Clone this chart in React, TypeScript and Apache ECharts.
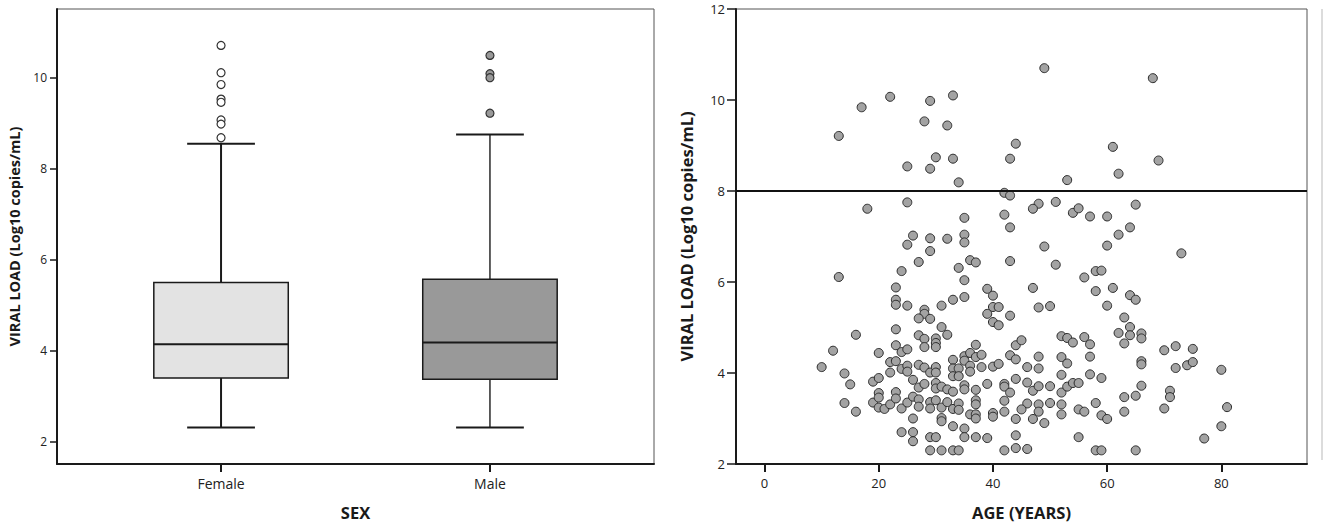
import { useEffect, useRef } from "react";
import * as echarts from "echarts";

// ---- Left panel: boxplot by sex ----
const sexCategories = ["Female", "Male"];
const boxLow = [2.3, 2.3];
const boxQ1 = [3.39, 3.36];
const boxMedian = [4.13, 4.17];
const boxQ3 = [5.49, 5.56];
const boxHigh = [8.54, 8.74];
const femaleOutliers = [10.7, 10.1, 9.84, 9.52, 9.45, 9.06, 8.97, 8.67];
const maleOutliers = [10.48, 10.08, 9.99, 9.21];
const loadTicksLeft = [2, 4, 6, 8, 10];

// ---- Right panel: viral load vs age ----
const ageTicks = [0, 20, 40, 60, 80];
const threshold = 8;
const ages = [
  13, 17, 22, 29, 33, 28, 32, 30, 33, 25, 29, 34, 18, 25, 35, 26, 25, 29, 29, 32,
  35, 35, 27, 36, 37, 34, 24, 13, 35, 23, 35, 33, 23, 23, 25, 31, 28, 28, 27, 29,
  23, 31, 32, 27, 28, 30, 30, 30, 28, 16, 12, 20, 23, 24, 25, 10, 14, 15, 14, 16,
  19, 20, 19, 20, 20, 20, 21, 22, 22, 22, 23, 23, 23, 24, 25, 25, 24, 25, 26, 26,
  27, 27, 27, 27, 28, 28, 29, 29, 29, 30, 30, 30, 30, 30, 31, 31, 31, 31, 32, 32,
  33, 33, 33, 33, 33, 33, 34, 34, 34, 34, 35, 35, 35, 35, 35, 35, 36, 36, 36, 36,
  37, 37, 37, 37, 37, 37, 37, 37, 38, 38, 24, 26, 26, 26, 29, 30, 29, 31, 33, 34,
  39, 40, 40, 41, 39, 40, 41, 40, 41, 39, 40, 40, 39,
  49, 68, 44, 43, 61, 69, 62, 53, 42, 43, 48, 47, 51, 54, 55, 57, 60, 65, 42, 43,
  64, 62, 49, 60, 73, 43, 51, 56, 58, 59, 47, 58, 61, 64, 65, 48, 50, 43, 60, 63,
  62, 64, 64, 63, 66, 66, 52, 53, 54, 56, 57, 44, 45, 43, 44, 48, 48, 46, 52, 53,
  57, 66, 66, 70, 72, 75, 74, 75, 72, 80, 42, 42, 43, 44, 46, 47, 48, 50, 52, 52,
  53, 54, 55, 57, 59, 66, 65, 63, 71, 71, 42, 46, 48, 50, 52, 58, 45, 48, 42, 52,
  55, 56, 59, 60, 63, 70, 81, 44, 47, 49, 80, 77, 44, 55, 42, 44, 46, 58, 59, 65,
];
const viralLoads = [
  9.21, 9.84, 10.07, 9.98, 10.1, 9.53, 9.44, 8.74, 8.71, 8.54, 8.49, 8.19, 7.61, 7.75, 7.41, 7.02, 6.82, 6.96, 6.68, 6.95,
  7.04, 6.87, 6.44, 6.48, 6.43, 6.31, 6.24, 6.11, 6.04, 5.88, 5.67, 5.61, 5.61, 5.5, 5.48, 5.48, 5.39, 5.3, 5.2, 5.19,
  4.96, 5.01, 4.84, 4.83, 4.75, 4.76, 4.66, 4.57, 4.57, 4.84, 4.49, 4.44, 4.61, 4.46, 4.52, 4.13, 3.99, 3.75, 3.34, 3.15,
  3.81, 3.89, 3.35, 3.56, 3.46, 3.24, 3.21, 3.31, 4.01, 4.24, 4.26, 3.58, 3.44, 4.09, 4.16, 4.03, 3.22, 3.35, 3.85, 3.48,
  4.18, 3.68, 3.42, 3.26, 4.12, 3.76, 4.01, 3.36, 3.22, 4.13, 4.01, 3.78, 3.66, 3.4, 3.7, 3.24, 3.01, 2.94, 3.64, 3.36,
  4.29, 4.1, 3.93, 3.59, 3.21, 2.83, 4.1, 3.93, 3.33, 3.19, 4.37, 4.27, 3.73, 3.64, 2.78, 2.59, 4.44, 4.16, 4.03, 3.09,
  4.62, 4.35, 3.63, 3.4, 3.31, 3.09, 3.0, 2.59, 4.4, 4.13, 2.7, 2.7, 2.5, 3.0, 2.59, 2.59, 2.3, 2.3, 2.3, 2.3,
  5.85, 5.7, 5.45, 5.45, 5.3, 5.12, 5.05, 4.14, 4.2, 3.76, 3.12, 3.04, 2.57,
  10.7, 10.48, 9.04, 8.71, 8.97, 8.67, 8.38, 8.24, 7.96, 7.9, 7.72, 7.61, 7.76, 7.52, 7.62, 7.44, 7.44, 7.7, 7.48, 7.2,
  7.2, 7.04, 6.78, 6.8, 6.63, 6.46, 6.38, 6.1, 6.24, 6.25, 5.87, 5.8, 5.87, 5.71, 5.61, 5.44, 5.47, 5.26, 5.48, 5.22,
  4.88, 5.01, 4.83, 4.65, 4.87, 4.76, 4.81, 4.77, 4.67, 4.79, 4.63, 4.61, 4.72, 4.39, 4.3, 4.36, 4.1, 4.13, 4.35, 4.21,
  4.36, 4.26, 4.19, 4.5, 4.59, 4.53, 4.17, 4.24, 4.11, 4.07, 3.76, 3.7, 3.57, 3.87, 3.79, 3.61, 3.71, 3.71, 3.96, 3.57,
  3.7, 3.78, 3.78, 3.97, 3.89, 3.72, 3.5, 3.47, 3.61, 3.47, 3.39, 3.33, 3.31, 3.34, 3.31, 3.34, 3.2, 3.15, 3.15, 3.09,
  3.2, 3.15, 3.07, 2.99, 3.15, 3.22, 3.25, 2.99, 2.99, 2.9, 2.83, 2.56, 2.63, 2.59, 2.3, 2.35, 2.33, 2.3, 2.3, 2.3,
];

const FONT = "'Open Sans', 'DejaVu Sans', sans-serif";
const DARK = "#1a1a1a";

export default function App() {
  const ref = useRef<HTMLDivElement>(null);

  useEffect(() => {
    if (!ref.current) return;
    const chart = echarts.init(ref.current, undefined, { renderer: "svg" });
    const boxFills = ["#e3e3e3", "#999999"];

    const axisNameStyle = (size: number) => ({
      fontFamily: FONT,
      fontWeight: "bold" as const,
      fontSize: size,
      color: DARK,
    });
    const tickLabel = (size: number) => ({
      fontFamily: FONT,
      fontSize: size,
      color: "#222",
    });
    const axisLine = { show: true, onZero: false, lineStyle: { color: DARK, width: 2 } };

    const option: any = {
      animation: false,
      backgroundColor: "#ffffff",
      grid: [
        { left: 57, top: 9, width: 597, height: 455, show: true, borderColor: "#555", borderWidth: 1, backgroundColor: "transparent" },
        { left: 736, top: 9, width: 571, height: 455, show: true, borderColor: "#555", borderWidth: 1, backgroundColor: "transparent" },
      ],
      xAxis: [
        {
          type: "value",
          gridIndex: 0,
          min: 0.39,
          max: 2.61,
          splitLine: { show: false },
          axisLine,
          axisTick: { show: true, length: 8, customValues: [1, 2], lineStyle: { color: DARK, width: 2 } },
          axisLabel: {
            show: true,
            customValues: [1, 2],
            margin: 12,
            formatter: (v: number) => sexCategories[Math.round(v) - 1] ?? "",
            ...tickLabel(14),
          },
          name: "SEX",
          nameLocation: "middle",
          nameGap: 40,
          nameTextStyle: axisNameStyle(16.5),
        },
        {
          type: "value",
          gridIndex: 1,
          min: -5,
          max: 95,
          splitLine: { show: false },
          axisLine,
          axisTick: { show: true, length: 8, customValues: ageTicks, lineStyle: { color: DARK, width: 2 } },
          axisLabel: { show: true, customValues: ageTicks, margin: 12, ...tickLabel(13) },
          name: "AGE (YEARS)",
          nameLocation: "middle",
          nameGap: 40,
          nameTextStyle: axisNameStyle(16.5),
        },
      ],
      yAxis: [
        {
          type: "value",
          gridIndex: 0,
          min: 1.5,
          max: 11.5,
          splitLine: { show: false },
          axisLine,
          axisTick: { show: true, length: 7, customValues: loadTicksLeft, lineStyle: { color: DARK, width: 1.5 } },
          axisLabel: { show: true, customValues: loadTicksLeft, margin: 10, ...tickLabel(12) },
          name: "VIRAL LOAD (Log10 copies/mL)",
          nameLocation: "middle",
          nameGap: 35,
          nameTextStyle: axisNameStyle(14.5),
        },
        {
          type: "value",
          gridIndex: 1,
          min: 2,
          max: 12,
          interval: 2,
          splitLine: { show: false },
          axisLine,
          axisTick: { show: true, length: 9, lineStyle: { color: DARK, width: 1.5 } },
          axisLabel: { show: true, margin: 11, showMaxLabel: true, showMinLabel: true, ...tickLabel(13) },
          name: "VIRAL LOAD (Log10 copies/mL)",
          nameLocation: "middle",
          nameGap: 41,
          nameTextStyle: axisNameStyle(16.5),
        },
      ],
      series: [
        {
          type: "custom",
          xAxisIndex: 0,
          yAxisIndex: 0,
          encode: { x: 0, y: [1, 2, 3, 4, 5] },
          data: sexCategories.map((_, i) => [i + 1, boxLow[i], boxQ1[i], boxMedian[i], boxQ3[i], boxHigh[i]]),
          renderItem: (params: any, api: any) => {
            const i = params.dataIndex;
            const x = api.value(0);
            const pLo = api.coord([x, api.value(1)]);
            const pQ1 = api.coord([x, api.value(2)]);
            const pMed = api.coord([x, api.value(3)]);
            const pQ3 = api.coord([x, api.value(4)]);
            const pHi = api.coord([x, api.value(5)]);
            const half = api.size([0.25, 0])[0];
            const cap = api.size([0.126, 0])[0];
            const cx = pMed[0];
            const lw = i === 0 ? 2 : 1.4;
            return {
              type: "group",
              children: [
                { type: "line", shape: { x1: cx, y1: pHi[1], x2: cx, y2: pQ3[1] }, style: { stroke: DARK, lineWidth: lw } },
                { type: "line", shape: { x1: cx, y1: pQ1[1], x2: cx, y2: pLo[1] }, style: { stroke: DARK, lineWidth: lw } },
                { type: "line", shape: { x1: cx - cap, y1: pHi[1], x2: cx + cap, y2: pHi[1] }, style: { stroke: DARK, lineWidth: 2 } },
                { type: "line", shape: { x1: cx - cap, y1: pLo[1], x2: cx + cap, y2: pLo[1] }, style: { stroke: DARK, lineWidth: 2 } },
                {
                  type: "rect",
                  shape: { x: cx - half, y: pQ3[1], width: 2 * half, height: pQ1[1] - pQ3[1] },
                  style: { fill: boxFills[i], stroke: DARK, lineWidth: 1.5 },
                },
                { type: "line", shape: { x1: cx - half, y1: pMed[1], x2: cx + half, y2: pMed[1] }, style: { stroke: DARK, lineWidth: 2 } },
              ],
            };
          },
        },
        {
          type: "scatter",
          xAxisIndex: 0,
          yAxisIndex: 0,
          symbol: "circle",
          symbolSize: 8,
          itemStyle: { color: "#ffffff", borderColor: "#333", borderWidth: 1.2, opacity: 1 },
          data: femaleOutliers.map((v) => [1, v]),
        },
        {
          type: "scatter",
          xAxisIndex: 0,
          yAxisIndex: 0,
          symbol: "circle",
          symbolSize: 8,
          itemStyle: { color: "#999999", borderColor: "#333", borderWidth: 1.2, opacity: 1 },
          data: maleOutliers.map((v) => [2, v]),
        },
        {
          type: "scatter",
          xAxisIndex: 1,
          yAxisIndex: 1,
          symbol: "circle",
          symbolSize: 9,
          itemStyle: { color: "#a3a3a3", borderColor: "#2b2b2b", borderWidth: 1, opacity: 1 },
          data: ages.map((a, i) => [a, viralLoads[i]]),
          markLine: {
            silent: true,
            symbol: "none",
            label: { show: false },
            lineStyle: { color: "#111", width: 2.2, type: "solid" },
            data: [{ yAxis: threshold }],
          },
        },
      ],
      graphic: [
        {
          type: "line",
          shape: { x1: 1322, y1: 9, x2: 1322, y2: 460 },
          style: { stroke: "#dcdcdc", lineWidth: 2 },
        },
      ],
    };

    chart.setOption(option);
    return () => chart.dispose();
  }, []);

  return (
    <div
      ref={ref}
      style={{ position: "absolute", left: 0, top: 0, width: 1325, height: 529, background: "#fff" }}
    />
  );
}
